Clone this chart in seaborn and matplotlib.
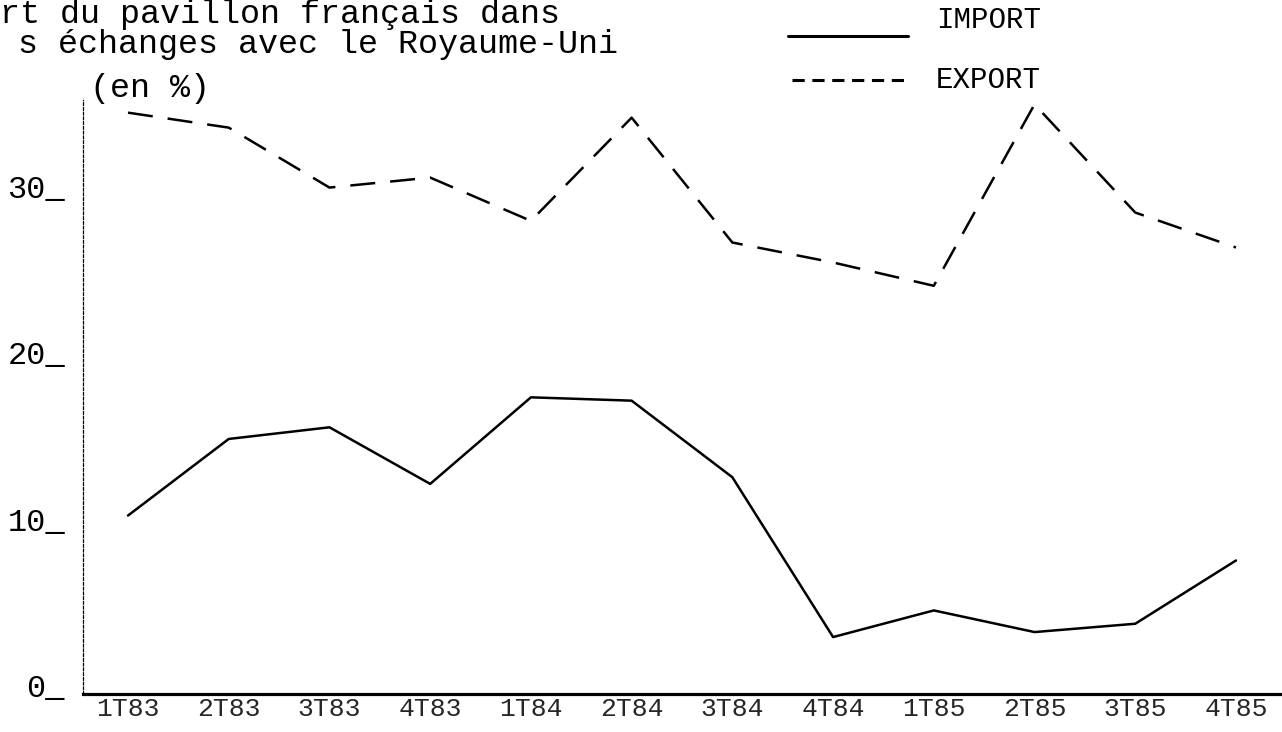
import numpy as np
import pandas as pd
import matplotlib
matplotlib.use("Agg")
import matplotlib.pyplot as plt
import matplotlib.transforms as mtransforms
from matplotlib.lines import Line2D
import seaborn as sns

# ---- data -------------------------------------------------------------
quarters = ["1T83", "2T83", "3T83", "4T83", "1T84", "2T84",
            "3T84", "4T84", "1T85", "2T85", "3T85", "4T85"]
import_vals = [10.3, 14.9, 15.6, 12.2, 17.4, 17.2, 12.6, 3.0, 4.6, 3.3, 3.8, 7.6]
export_vals = [34.5, 33.6, 30.0, 30.6, 28.0, 34.2, 26.7, 25.5, 24.1, 35.0, 28.5, 26.4]
series_names = ["IMPORT", "EXPORT"]
ytick_vals = [0, 10, 20, 30]
ytick_labels = ["0_", "10_", "20_", "30_"]
# title as visible on the (cropped) scan
title_lines = ["rt du pavillon français dans",
               "s échanges avec le Royaume-Uni",
               "(en %)"]

df = pd.DataFrame({
    "pos": list(range(len(quarters))) * 2,
    "val": import_vals + export_vals,
    "serie": [series_names[0]] * len(quarters) + [series_names[1]] * len(quarters),
})

# ---- style ------------------------------------------------------------
sns.set_theme(style="white")
plt.rcParams["font.family"] = ["Liberation Mono", "DejaVu Sans Mono", "DejaVu Sans"]
plt.rcParams["text.color"] = "black"

W, H = 1282, 732
fig = plt.figure(figsize=(W / 100, H / 100), dpi=100)
ax_left, ax_right, ax_top, ax_bot = 83, 1282, 100, 694
ax = fig.add_axes([ax_left / W, (H - ax_bot) / H,
                   (ax_right - ax_left) / W, (ax_bot - ax_top) / H])

sns.lineplot(data=df, x="pos", y="val", hue="serie", style="serie",
             palette={"IMPORT": "black", "EXPORT": "black"},
             dashes={"IMPORT": "", "EXPORT": (10, 6)},
             linewidth=1.8, legend=False, ax=ax, sort=False)

ax.set_xlim(-0.447, 11.457)
ax.set_ylim(-0.42, 35.26)
ax.set_xlabel("")
ax.set_ylabel("")

# axes lines
for s in ["top", "right"]:
    ax.spines[s].set_visible(False)
ax.spines["bottom"].set_linewidth(2.3)
ax.spines["bottom"].set_color("black")
ax.spines["left"].set_linewidth(0.9)
ax.spines["left"].set_color("black")
ax.spines["left"].set_linestyle((0, (2.2, 1.6)))

# x ticks
ax.set_xticks(range(len(quarters)))
ax.set_xticklabels(quarters, fontsize=19)
ax.tick_params(axis="x", length=0, pad=2)

# y ticks as typewriter labels (digits centred on the level)
ax.set_yticks([])
for v, lab in zip(ytick_vals, ytick_labels):
    tr = mtransforms.offset_copy(
        mtransforms.blended_transform_factory(ax.transAxes, ax.transData),
        fig=fig, x=0, y=-10, units="dots")
    ax.text(-18 / (ax_right - ax_left), v, lab, transform=tr,
            ha="right", va="baseline", fontsize=23, clip_on=False)

# title
fig.text(0 / W, 1 - 15 / H, title_lines[0], fontsize=24, va="center", ha="left")
fig.text(18 / W, 1 - 45 / H, title_lines[1], fontsize=24, va="center", ha="left")
fig.text(90 / W, 1 - 88 / H, title_lines[2], fontsize=24, va="center", ha="left")

# legend (typewriter style: underline for IMPORT, dashes for EXPORT)
fig.add_artist(Line2D([788 / W, 908 / W], [1 - 36 / H] * 2, color="black",
                      lw=2.2, transform=fig.transFigure))
fig.add_artist(Line2D([792 / W, 905 / W], [1 - 80 / H] * 2, color="black",
                      lw=2.2, linestyle=(0, (4, 2.5)), transform=fig.transFigure))
fig.text(936 / W, 1 - 20 / H, series_names[0], fontsize=21, va="center", ha="left")
fig.text(936 / W, 1 - 80 / H, series_names[1], fontsize=21, va="center", ha="left")

fig.savefig("out.png", dpi=100, facecolor="white")
